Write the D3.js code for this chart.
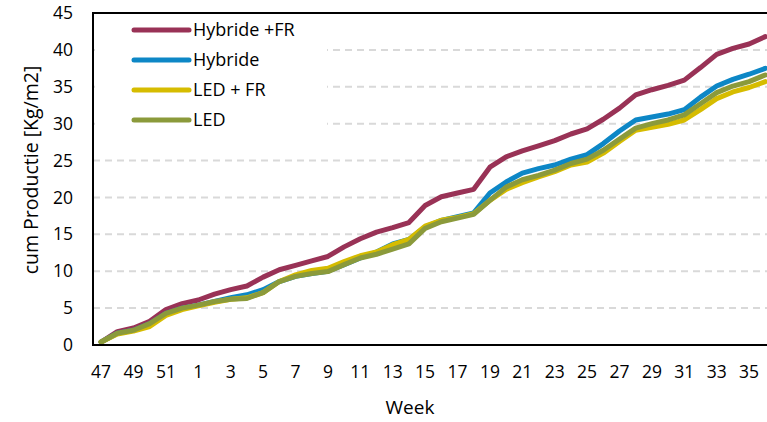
<!DOCTYPE html>
<html><head><meta charset="utf-8">
<script src="https://cdn.jsdelivr.net/npm/d3@7"></script>
<style>
html,body{margin:0;padding:0;background:#fff;overflow:hidden}
svg{display:block;font-family:"Open Sans",sans-serif}
</style></head>
<body><svg id="c" width="767" height="422"></svg>
<script>
const weeks = [47,48,49,50,51,52,1,2,3,4,5,6,7,8,9,10,11,12,13,14,15,16,17,18,19,20,21,22,23,24,25,26,27,28,29,30,31,32,33,34,35,36];
const seriesNames = ["Hybride +FR","Hybride","LED + FR","LED"];
const hybrideFR = [0.4,1.8,2.3,3.2,4.8,5.6, 6.1,6.9,7.5,8.0,9.2,10.2,10.8,11.4,12.0,13.3, 14.4,15.3,15.9,16.6,18.9,20.1,20.6,21.1,24.1,25.5, 26.3,27.0,27.7,28.6,29.3,30.6,32.1,33.9,34.6,35.2, 35.9,37.6,39.4,40.2,40.8,41.8];
const hybride = [0.4,1.6,2.0,2.9,4.3,5.0, 5.4,5.9,6.4,6.8,7.5,8.6,9.3,9.7,10.0,10.9, 11.8,12.6,13.7,14.3,16.0,16.9,17.4,17.9,20.6,22.1, 23.3,23.9,24.4,25.2,25.8,27.3,29.0,30.5,30.9,31.3, 31.9,33.6,35.1,36.0,36.7,37.5];
const ledFR = [0.4,1.5,1.9,2.5,4.0,4.8, 5.3,5.8,6.2,6.4,7.1,8.6,9.5,10.1,10.4,11.3, 12.1,12.6,13.6,14.3,16.1,16.9,17.3,17.8,19.6,21.1, 22.0,22.8,23.5,24.4,24.8,26.0,27.6,29.1,29.5,29.9, 30.5,31.9,33.4,34.3,34.9,35.7];
const led = [0.4,1.6,2.0,2.9,4.3,5.0, 5.4,5.9,6.2,6.3,7.1,8.6,9.3,9.7,9.95,10.9, 11.8,12.3,13.0,13.7,15.8,16.7,17.2,17.7,19.6,21.4, 22.4,23.0,23.7,24.6,25.2,26.4,27.9,29.4,30.0,30.5, 31.2,32.7,34.2,35.1,35.7,36.6];
const yTicks = [0,5,10,15,20,25,30,35,40,45];
const colors = ["#993256","#0d87c6","#d6bc00","#8b9a3b"];
const allSeries = [hybrideFR, hybride, ledFR, led];

const FONT = "'Open Sans',sans-serif";
const svg = d3.select("#c");
const L = 93, T = 13, B = 345, bw = 16.2;
const R = L + weeks.length * bw;
const x = d3.scaleBand().domain(d3.range(weeks.length)).range([L, R]).padding(0);
const cx = i => x(i) + x.bandwidth()/2;
const y = d3.scaleLinear().domain([0,45]).range([B, T]);

// gridlines
svg.append("g").selectAll("line").data(yTicks.filter(t => t > 0 && t < 45)).join("line")
  .attr("x1", L).attr("x2", R).attr("y1", d => y(d)).attr("y2", d => y(d))
  .attr("stroke", "#d9d9d9").attr("stroke-width", 2).attr("stroke-dasharray", "7,5");

// y axis labels
const yAxis = d3.axisLeft(y).tickValues(yTicks).tickSize(0).tickPadding(20);
const gy = svg.append("g").attr("transform", `translate(${L},0)`).call(yAxis);
gy.select(".domain").remove();
gy.selectAll("text").attr("font-size", 17.5).attr("fill", "#000").attr("font-family", FONT);

// x axis labels
const xAxis = d3.axisBottom(x).tickValues(d3.range(0, weeks.length, 2)).tickFormat(i => weeks[i]).tickSize(0).tickPadding(21);
const gx = svg.append("g").attr("transform", `translate(0,${B})`).call(xAxis);
gx.select(".domain").remove();
gx.selectAll("text").attr("font-size", 17.5).attr("fill", "#000").attr("font-family", FONT);

// lines
const line = d3.line().x((d,i) => cx(i)).y(d => y(d)).curve(d3.curveLinear);
svg.append("g").selectAll("path").data(allSeries).join("path")
  .attr("d", d => line(d)).attr("fill", "none")
  .attr("stroke", (d,i) => colors[i]).attr("stroke-width", 5)
  .attr("stroke-linejoin", "round").attr("stroke-linecap", "round");

// legend background + entries
svg.append("rect").attr("x", L+2).attr("y", T+2).attr("width", 232).attr("height", 120).attr("fill", "#fff");
const lg = svg.append("g");
seriesNames.forEach((n, i) => {
  const yy = 30 + i*30;
  lg.append("line").attr("x1", 134).attr("x2", 189).attr("y1", yy).attr("y2", yy)
    .attr("stroke", colors[i]).attr("stroke-width", 5).attr("stroke-linecap", "round");
  lg.append("text").attr("x", 193).attr("y", yy).attr("dy", "0.36em")
    .attr("font-size", 18).attr("fill", "#000").attr("font-family", FONT).text(n);
});

// frame
svg.append("rect").attr("x", L).attr("y", T).attr("width", R - L).attr("height", B - T)
  .attr("fill", "none").attr("stroke", "#000").attr("stroke-width", 2);

// axis titles
svg.append("text").attr("transform", `translate(31,170) rotate(-90)`).attr("text-anchor", "middle")
  .attr("dy", "0.36em").attr("font-size", 19.5).attr("fill", "#000").attr("font-family", FONT).text("cum Productie [Kg/m2]");
svg.append("text").attr("x", 410).attr("y", 414).attr("text-anchor", "middle")
  .attr("font-size", 19).attr("fill", "#000").attr("font-family", FONT).text("Week");
</script></body></html>
